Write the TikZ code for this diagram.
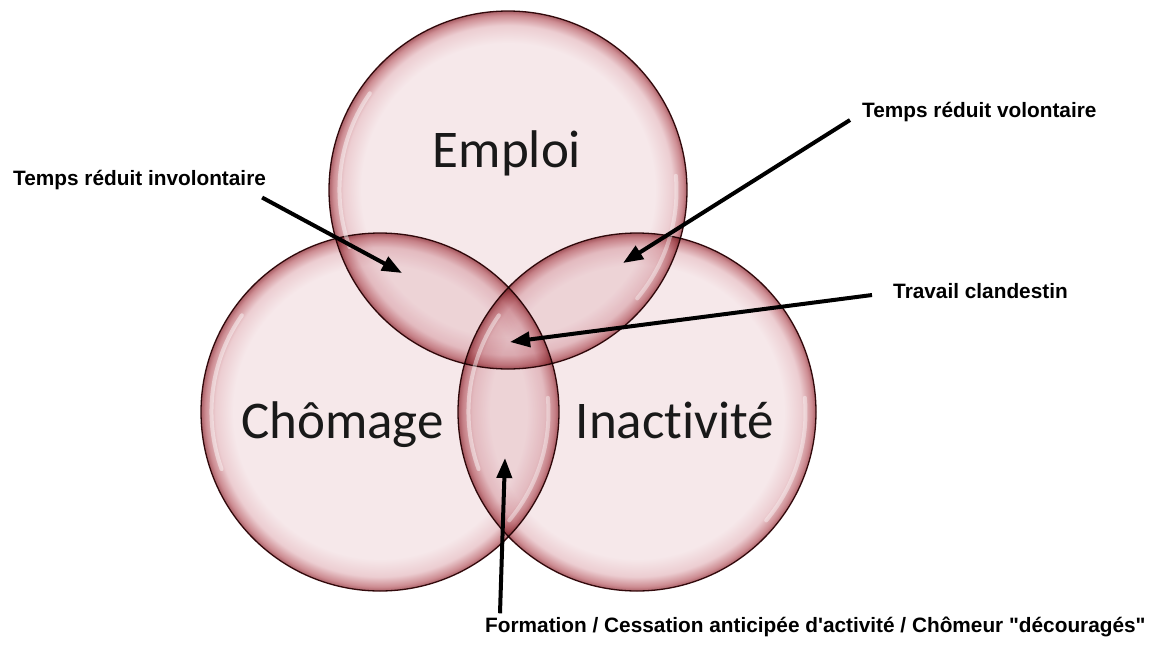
\documentclass[tikz,border=0pt]{standalone}
\usepackage{fontspec}
\setmainfont{Carlito}[Ligatures={NoCommon,NoContextual}]
\newfontfamily\labfont{Liberation Sans}
\usetikzlibrary{arrows.meta}
\definecolor{bubin}{RGB}{246,232,234}
\definecolor{bubma}{RGB}{236,205,209}
\definecolor{bubmb}{RGB}{205,140,146}
\definecolor{bubrim}{RGB}{170,95,102}
\definecolor{rimline}{RGB}{60,15,18}
\pgfdeclareradialshading{bubble}{\pgfpoint{0bp}{0bp}}{color(0bp)=(bubin); color(20.5bp)=(bubin); color(23bp)=(bubma); color(24.4bp)=(bubmb); color(25bp)=(bubrim); color(50bp)=(bubrim)}
\begin{document}
\begin{tikzpicture}[x=1pt,y=-1pt,
  bubblestyle/.style={circle, minimum size=358pt, inner sep=0pt, shade, shading=bubble, draw=rimline, line width=1.3pt},
  big/.style={font=\fontsize{53}{60}\selectfont, text=black!90, inner sep=0pt, anchor=base},
  lab/.style={font=\labfont\bfseries\fontsize{20.8}{24}\selectfont, inner sep=0pt, anchor=base west},
  arr/.style={line width=4pt, -{Triangle[length=20pt,width=15pt]}},
  hl/.style={white, line cap=round}]
\useasboundingbox (0,0) rectangle (1162,646);
\fill[white] (0,0) rectangle (1162,646);
\begin{scope}[blend mode=multiply]
\node[bubblestyle] (cE) at (508,190) {};
\node[bubblestyle] (cC) at (380,412) {};
\node[bubblestyle] (cI) at (637,412) {};
\end{scope}
\foreach \c in {cE,cC,cI}{
  \draw[hl, opacity=.45, line width=4pt] ([shift={(145:-11pt)}]\c.145) arc[start angle=145, end angle=200, radius=168pt];
  \draw[hl, opacity=.4, line width=4pt] ([shift={(-40:-11pt)}]\c.-40) arc[start angle=-40, end angle=5, radius=168pt];
}
\node[big] (tE) at (507,167) {Emploi};
\node[big] (tC) at (342.5,438) {Chômage};
\node[big] (tI) at (675,438) {Inactivité};
\node[lab] (l1) at (13,185) {Temps réduit involontaire};
\node[lab] (l2) at (862,117) {Temps réduit volontaire};
\node[lab] (l3) at (893,298) {Travail clandestin};
\node[lab] (l4) at (485,632) {Formation / Cessation anticipée d\textquotesingle activité / Chômeur "découragés"};
\coordinate (t1) at (402,273);
\coordinate (t2) at (623,263);
\coordinate (t3) at (510,342);
\coordinate (t4) at (505,458);
\draw[arr] ([xshift=-4pt,yshift=-8pt]l1.south east) -- (t1);
\draw[arr] ([xshift=-12pt,yshift=1.5pt]l2.south west) -- (t2);
\draw[arr] ([xshift=-21pt,yshift=3pt]l3.base west) -- (t3);
\draw[arr] ([xshift=15pt,yshift=3pt]l4.north west) -- (t4);
\end{tikzpicture}
\end{document}
